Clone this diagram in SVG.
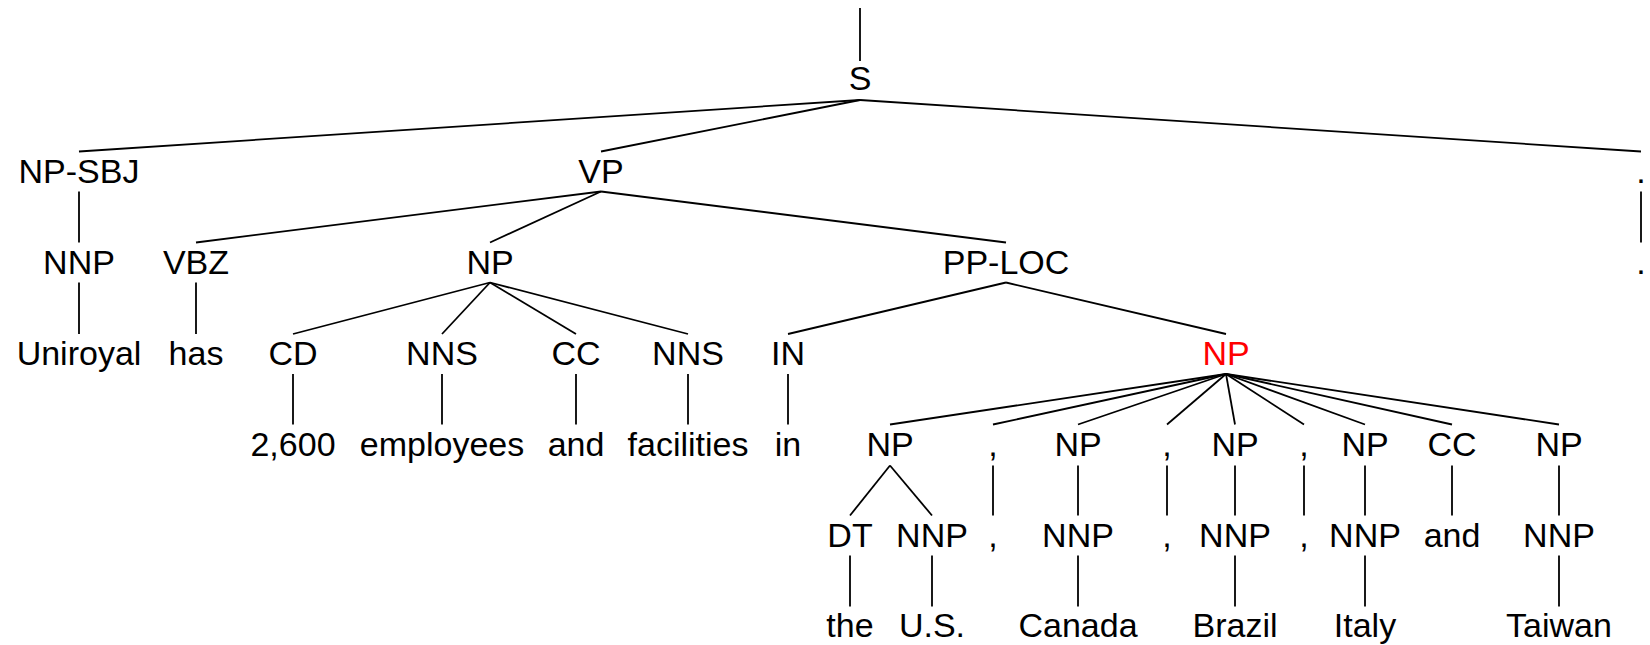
<svg xmlns="http://www.w3.org/2000/svg" width="1650" height="645" viewBox="0 0 1650 645">
<style>
text{font-family:"Liberation Sans",Arial,Helvetica,sans-serif;font-size:34px;fill:#000;text-anchor:middle}
text.hl{fill:#ff0000}
#edges line{stroke:#000;stroke-width:1.8;stroke-linecap:butt}
</style>
<rect width="1650" height="645" fill="#fff"/>
<g id="edges">
<line x1="860" y1="8" x2="860" y2="61"/>
<line x1="860" y1="100" x2="79" y2="151.5"/>
<line x1="860" y1="100" x2="601" y2="151.5"/>
<line x1="860" y1="100" x2="1641" y2="151.5"/>
<line x1="79" y1="191.5" x2="79" y2="242.5"/>
<line x1="601" y1="191.5" x2="196" y2="242.5"/>
<line x1="601" y1="191.5" x2="490" y2="242.5"/>
<line x1="601" y1="191.5" x2="1006" y2="242.5"/>
<line x1="1641" y1="191.5" x2="1641" y2="242.5"/>
<line x1="79" y1="282.5" x2="79" y2="334"/>
<line x1="196" y1="282.5" x2="196" y2="334"/>
<line x1="490" y1="282.5" x2="293" y2="334"/>
<line x1="490" y1="282.5" x2="442" y2="334"/>
<line x1="490" y1="282.5" x2="576" y2="334"/>
<line x1="490" y1="282.5" x2="688" y2="334"/>
<line x1="1006" y1="282.5" x2="788" y2="334"/>
<line x1="1006" y1="282.5" x2="1226" y2="334"/>
<line x1="293" y1="374" x2="293" y2="424.5"/>
<line x1="442" y1="374" x2="442" y2="424.5"/>
<line x1="576" y1="374" x2="576" y2="424.5"/>
<line x1="688" y1="374" x2="688" y2="424.5"/>
<line x1="788" y1="374" x2="788" y2="424.5"/>
<line x1="1226" y1="374" x2="890" y2="424.5"/>
<line x1="1226" y1="374" x2="993" y2="424.5"/>
<line x1="1226" y1="374" x2="1078" y2="424.5"/>
<line x1="1226" y1="374" x2="1167" y2="424.5"/>
<line x1="1226" y1="374" x2="1235" y2="424.5"/>
<line x1="1226" y1="374" x2="1304" y2="424.5"/>
<line x1="1226" y1="374" x2="1365" y2="424.5"/>
<line x1="1226" y1="374" x2="1452" y2="424.5"/>
<line x1="1226" y1="374" x2="1559" y2="424.5"/>
<line x1="890" y1="465.5" x2="850" y2="515.5"/>
<line x1="890" y1="465.5" x2="932" y2="515.5"/>
<line x1="993" y1="465.5" x2="993" y2="515.5"/>
<line x1="1078" y1="465.5" x2="1078" y2="515.5"/>
<line x1="1167" y1="465.5" x2="1167" y2="515.5"/>
<line x1="1235" y1="465.5" x2="1235" y2="515.5"/>
<line x1="1304" y1="465.5" x2="1304" y2="515.5"/>
<line x1="1365" y1="465.5" x2="1365" y2="515.5"/>
<line x1="1452" y1="465.5" x2="1452" y2="515.5"/>
<line x1="1559" y1="465.5" x2="1559" y2="515.5"/>
<line x1="850" y1="555.5" x2="850" y2="606.5"/>
<line x1="932" y1="555.5" x2="932" y2="606.5"/>
<line x1="1078" y1="555.5" x2="1078" y2="606.5"/>
<line x1="1235" y1="555.5" x2="1235" y2="606.5"/>
<line x1="1365" y1="555.5" x2="1365" y2="606.5"/>
<line x1="1559" y1="555.5" x2="1559" y2="606.5"/>
</g>
<g id="n-S"><text x="860" y="90">S</text></g>
<g id="n-NP-SBJ"><text x="79" y="182.5">NP-SBJ</text></g>
<g id="n-VP"><text x="601" y="182.5">VP</text></g>
<g id="n-punct1"><text x="1641" y="182.5">.</text></g>
<g id="n-NNP1"><text x="79" y="273.5">NNP</text></g>
<g id="n-VBZ"><text x="196" y="273.5">VBZ</text></g>
<g id="n-NP1"><text x="490" y="273.5">NP</text></g>
<g id="n-PP-LOC"><text x="1006" y="273.5">PP-LOC</text></g>
<g id="n-punct2"><text x="1641" y="273.5">.</text></g>
<g id="n-Uniroyal"><text x="79" y="365">Uniroyal</text></g>
<g id="n-has"><text x="196" y="365">has</text></g>
<g id="n-CD"><text x="293" y="365">CD</text></g>
<g id="n-NNS1"><text x="442" y="365">NNS</text></g>
<g id="n-CC1"><text x="576" y="365">CC</text></g>
<g id="n-NNS2"><text x="688" y="365">NNS</text></g>
<g id="n-IN"><text x="788" y="365">IN</text></g>
<g id="n-NP2"><text class="hl" x="1226" y="365">NP</text></g>
<g id="n-2600"><text x="293" y="455.5">2,600</text></g>
<g id="n-employees"><text x="442" y="455.5">employees</text></g>
<g id="n-and1"><text x="576" y="455.5">and</text></g>
<g id="n-facilities"><text x="688" y="455.5">facilities</text></g>
<g id="n-in"><text x="788" y="455.5">in</text></g>
<g id="n-NP3"><text x="890" y="455.5">NP</text></g>
<g id="n-comma1"><text x="993" y="455.5">,</text></g>
<g id="n-NP4"><text x="1078" y="455.5">NP</text></g>
<g id="n-comma2"><text x="1167" y="455.5">,</text></g>
<g id="n-NP5"><text x="1235" y="455.5">NP</text></g>
<g id="n-comma3"><text x="1304" y="455.5">,</text></g>
<g id="n-NP6"><text x="1365" y="455.5">NP</text></g>
<g id="n-CC2"><text x="1452" y="455.5">CC</text></g>
<g id="n-NP7"><text x="1559" y="455.5">NP</text></g>
<g id="n-DT"><text x="850" y="546.5">DT</text></g>
<g id="n-NNP2"><text x="932" y="546.5">NNP</text></g>
<g id="n-comma4"><text x="993" y="546.5">,</text></g>
<g id="n-NNP3"><text x="1078" y="546.5">NNP</text></g>
<g id="n-comma5"><text x="1167" y="546.5">,</text></g>
<g id="n-NNP4"><text x="1235" y="546.5">NNP</text></g>
<g id="n-comma6"><text x="1304" y="546.5">,</text></g>
<g id="n-NNP5"><text x="1365" y="546.5">NNP</text></g>
<g id="n-and2"><text x="1452" y="546.5">and</text></g>
<g id="n-NNP6"><text x="1559" y="546.5">NNP</text></g>
<g id="n-the"><text x="850" y="637">the</text></g>
<g id="n-US"><text x="932" y="637">U.S.</text></g>
<g id="n-Canada"><text x="1078" y="637">Canada</text></g>
<g id="n-Brazil"><text x="1235" y="637">Brazil</text></g>
<g id="n-Italy"><text x="1365" y="637">Italy</text></g>
<g id="n-Taiwan"><text x="1559" y="637">Taiwan</text></g>
</svg>
